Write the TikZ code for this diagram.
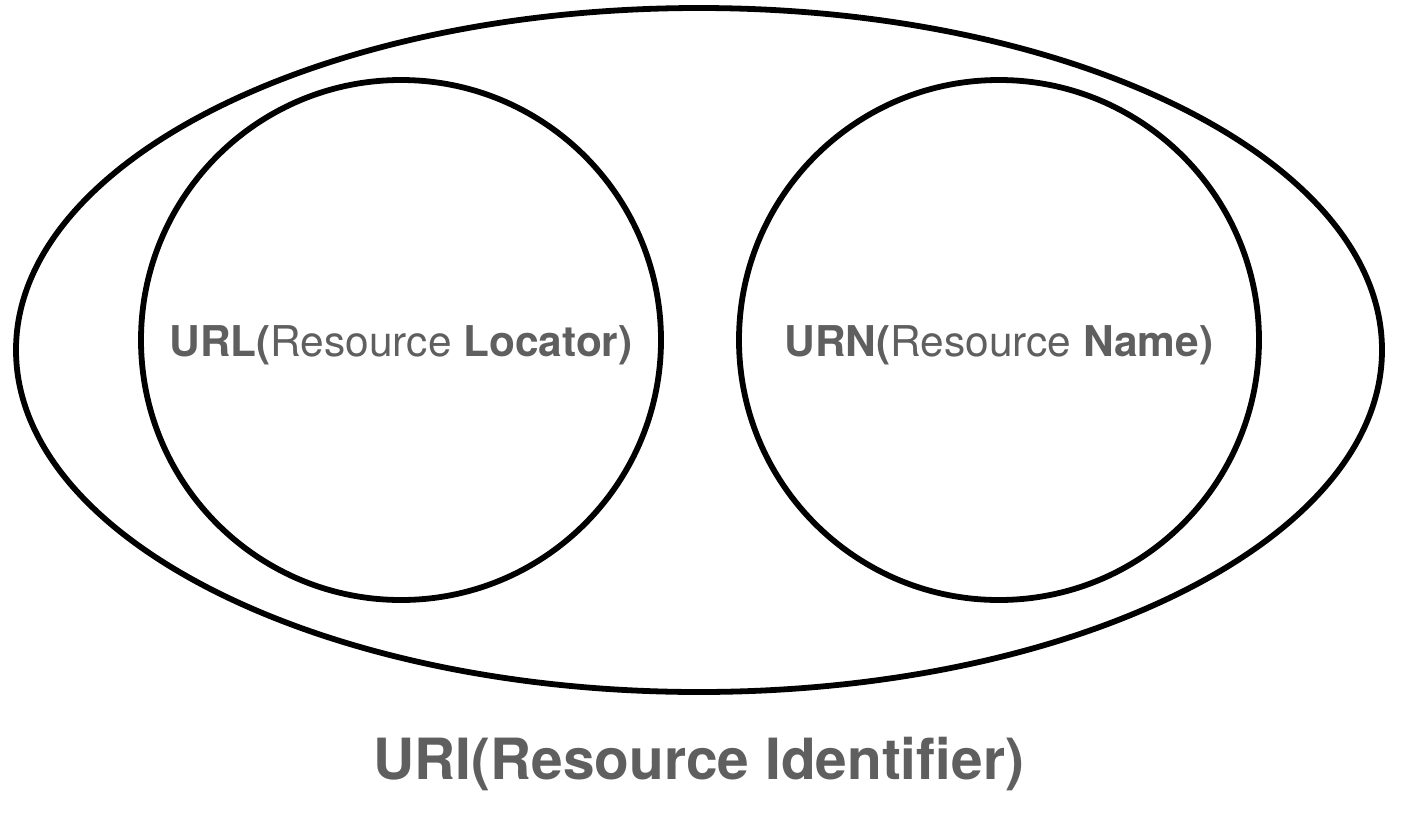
\documentclass[tikz,border=0pt]{standalone}
\usepackage{fontspec}
\setmainfont{TeX Gyre Heros}
\usepackage{tikz}
\usetikzlibrary{shapes.geometric}
\definecolor{labelgray}{RGB}{95,95,95}

\begin{document}
\begin{tikzpicture}[x=0.5pt,y=-0.5pt,
  set/.style={draw=black,line width=2.9pt,inner sep=0pt},
  subset/.style={set,circle,minimum size=260pt,font=\fontsize{21.2}{25}\selectfont,text=labelgray}]
\useasboundingbox (0,0) rectangle (1424,814);
% Outer set
\node[set,ellipse,minimum width=683pt,minimum height=342pt] (uri) at (699,350) {};
% Inner sets
\node[subset] (url) at (401,340) {\raisebox{-2.5pt}[\height][\depth]{\textbf{URL(}Resource \textbf{Locator)}}};
\node[subset] (urn) at (999,340) {\raisebox{-2.5pt}[\height][\depth]{\textbf{URN(}Resource \textbf{Name)}}};
% Caption
\node[font=\fontsize{28.4}{34}\selectfont\bfseries,text=labelgray] (urilabel) at (699,764) {URI(Resource Identifier)};
\end{tikzpicture}
\end{document}
